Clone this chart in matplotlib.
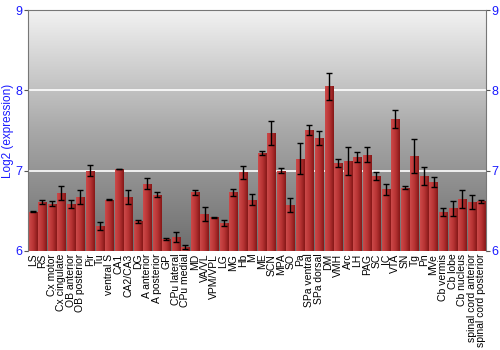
import numpy as np
import matplotlib
matplotlib.use("Agg")
import matplotlib.pyplot as plt
from matplotlib.colors import LinearSegmentedColormap

regions = ["LS", "RS", "Cx motor", "Cx cingulate", "OB anterior", "OB posterior",
           "Pir", "Tu", "ventral S", "CA1", "CA2/CA3", "DG", "A anterior",
           "A posterior", "GP", "CPu lateral", "CPu medial", "MD", "VA/VL",
           "VPM/VPL", "LG", "MG", "Hb", "M", "ME", "SCN", "MPA", "SO", "Pa",
           "SPa ventral", "SPa dorsal", "DM", "VMH", "Arc", "LH", "PAG", "SC",
           "IC", "VTA", "SN", "Tg", "Pn", "MVe", "Cb vermis", "Cb lobe",
           "Cb nucleus", "spinal cord anterior", "spinal cord posterior"]

expr = [6.49, 6.61, 6.59, 6.72, 6.59, 6.67, 7.00, 6.31, 6.64, 7.02, 6.67, 6.37,
        6.84, 6.70, 6.15, 6.17, 6.05, 6.73, 6.46, 6.42, 6.35, 6.73, 6.98, 6.64,
        7.22, 7.47, 7.00, 6.57, 7.15, 7.51, 7.41, 8.05, 7.09, 7.12, 7.17, 7.20,
        6.93, 6.77, 7.64, 6.79, 7.18, 6.93, 6.86, 6.49, 6.53, 6.65, 6.61, 6.62]

err = [0.005, 0.02, 0.03, 0.09, 0.05, 0.09, 0.07, 0.05, 0.01, 0.005, 0.09, 0.02,
       0.07, 0.03, 0.01, 0.06, 0.02, 0.03, 0.09, 0.005, 0.04, 0.04, 0.08, 0.07,
       0.02, 0.15, 0.03, 0.09, 0.19, 0.06, 0.09, 0.17, 0.05, 0.18, 0.06, 0.09,
       0.05, 0.07, 0.11, 0.02, 0.21, 0.11, 0.06, 0.05, 0.09, 0.11, 0.09, 0.02]

blue = "#1a1aff"
font = "Liberation Sans"

fig = plt.figure(figsize=(5, 3.5), dpi=100)
ax = fig.add_axes([0.056, 0.283, 0.916, 0.688])

x = np.arange(len(regions))

# gray gradient background
bg = LinearSegmentedColormap.from_list("bg", ["#6e6e6e", "#a8a8a8", "#f2f2f2"])
grad = np.linspace(0, 1, 256).reshape(-1, 1)
ax.imshow(grad, cmap=bg, origin="lower", aspect="auto",
          extent=[-0.5, len(regions) - 0.5, 6, 9], zorder=0)

for g in [7, 8]:
    ax.axhline(g, color="white", lw=1.2, zorder=1)

# bars with horizontal red gradient
barcm = LinearSegmentedColormap.from_list("bar", ["#cc4a4a", "#b83434", "#861818"])
hgrad = np.linspace(0, 1, 64).reshape(1, -1)
w = 0.85
bars = ax.bar(x, np.array(expr) - 6, bottom=6, width=w, color="#a82a2a",
              edgecolor="none", zorder=2)
for b in bars:
    x0, y0 = b.get_x(), b.get_y()
    im = ax.imshow(hgrad, cmap=barcm, aspect="auto",
                   extent=[x0, x0 + b.get_width(), y0, y0 + b.get_height()],
                   zorder=2.5)
    im.set_clip_path(b)

ax.errorbar(x, expr, yerr=err, fmt="none", ecolor="black", elinewidth=1,
            capsize=2, capthick=1, zorder=3)

ax.set_xlim(-0.5, len(regions) - 0.5)
ax.set_ylim(6, 9)
ax.set_xticks(x)
ax.set_xticklabels(regions, rotation=90, fontsize=7.5, family=font)
ax.tick_params(axis="x", length=0, pad=2)
ax.set_yticks([6, 7, 8, 9])
ax.tick_params(axis="y", colors="#555555", labelcolor=blue, labelsize=9,
               length=3, pad=1, left=True, right=True,
               labelleft=True, labelright=True)
for t in ax.get_yticklabels():
    t.set_family(font)
ax.set_ylabel("Log2 (expression)", color=blue, fontsize=8.5,
              family=font, labelpad=1)

for s in ax.spines.values():
    s.set_color("#777777")
ax.spines["bottom"].set_visible(False)

fig.savefig("out.png", dpi=100)
